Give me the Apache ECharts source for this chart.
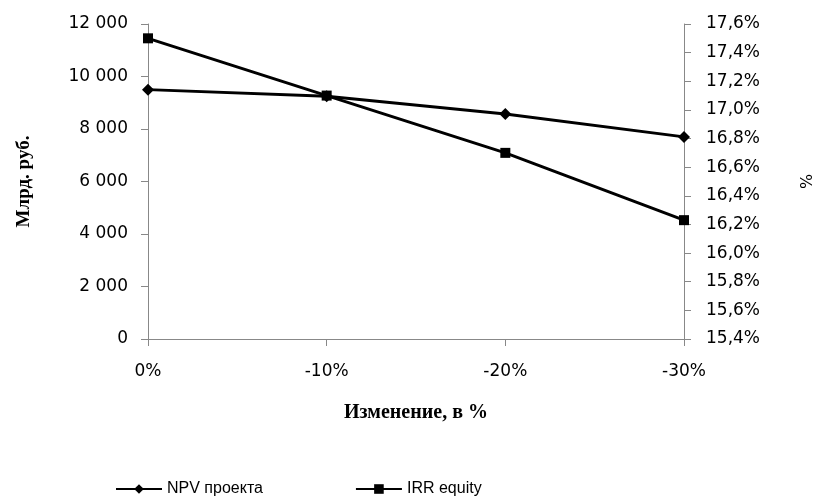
<!DOCTYPE html>
<html><head><meta charset="utf-8">
<script src="https://cdn.jsdelivr.net/npm/echarts@6/dist/echarts.min.js"></script>
<style>html,body{margin:0;padding:0;background:#fff}#c{width:815px;height:503px}</style>
</head><body><div id="c"></div>
<script>
const categories = ['0%', '-10%', '-20%', '-30%'];
const npvValues = [9500, 9250, 8570, 7700];
const irrValues = [17.5, 17.1, 16.7, 16.23];
const npvName = 'NPV проекта';
const irrName = 'IRR equity';

const chart = echarts.init(document.getElementById('c'));
const lblFont = {fontFamily: 'DejaVu Sans, Verdana, sans-serif', fontSize: 17, color: '#000'};
const axisLine = {show: true, lineStyle: {color: '#888', width: 1}};
chart.setOption({
  animation: false,
  grid: {left: 148, right: 131, top: 24, bottom: 164, containLabel: false, outerBoundsMode: 'none'},
  legend: {
    bottom: 1, left: 110, itemGap: 92, itemWidth: 46, itemHeight: 12,
    textStyle: {fontFamily: 'Liberation Sans, Arial, sans-serif', fontSize: 16, color: '#000'},
    data: [npvName, irrName]
  },
  xAxis: {
    type: 'category', data: categories, boundaryGap: false,
    axisLine: axisLine, axisTick: {show: true, length: 7, alignWithLabel: true, lineStyle: {color: '#888'}},
    axisLabel: Object.assign({margin: 24}, lblFont),
    splitLine: {show: false},
    name: 'Изменение, в %', nameLocation: 'middle', nameGap: 64,
    nameTextStyle: {fontFamily: 'Liberation Serif, Times New Roman, serif', fontWeight: 'bold', fontSize: 20, color: '#000'}
  },
  yAxis: [{
    type: 'value', min: 0, max: 12000, interval: 2000, position: 'left',
    axisLine: axisLine, axisTick: {show: true, length: 7, lineStyle: {color: '#888'}},
    splitLine: {show: false},
    axisLabel: Object.assign({margin: 20, formatter: v => String(v).replace(/\B(?=(\d{3})+(?!\d))/g, ' ')}, lblFont),
    name: 'Млрд. руб.', nameLocation: 'middle', nameGap: 114, nameRotate: 90,
    nameTextStyle: {fontFamily: 'Liberation Serif, Times New Roman, serif', fontWeight: 'bold', fontSize: 19, color: '#000'}
  }, {
    type: 'value', min: 15.4, max: 17.6, interval: 0.2, position: 'right',
    axisLine: axisLine, axisTick: {show: true, length: 7, lineStyle: {color: '#888'}},
    splitLine: {show: false},
    axisLabel: Object.assign({margin: 22, formatter: v => v.toFixed(1).replace('.', ',') + '%'}, lblFont),
    name: '%', nameLocation: 'middle', nameGap: 116, nameRotate: 90,
    nameTextStyle: {fontFamily: 'DejaVu Sans, sans-serif', fontSize: 16, color: '#000'}
  }],
  series: [{
    name: npvName, type: 'line', yAxisIndex: 0, data: npvValues,
    symbol: 'diamond', symbolSize: 12,
    lineStyle: {color: '#000', width: 3}, itemStyle: {color: '#000'}
  }, {
    name: irrName, type: 'line', yAxisIndex: 1, data: irrValues,
    symbol: 'rect', symbolSize: 10,
    lineStyle: {color: '#000', width: 3}, itemStyle: {color: '#000'}
  }]
});
</script></body></html>
